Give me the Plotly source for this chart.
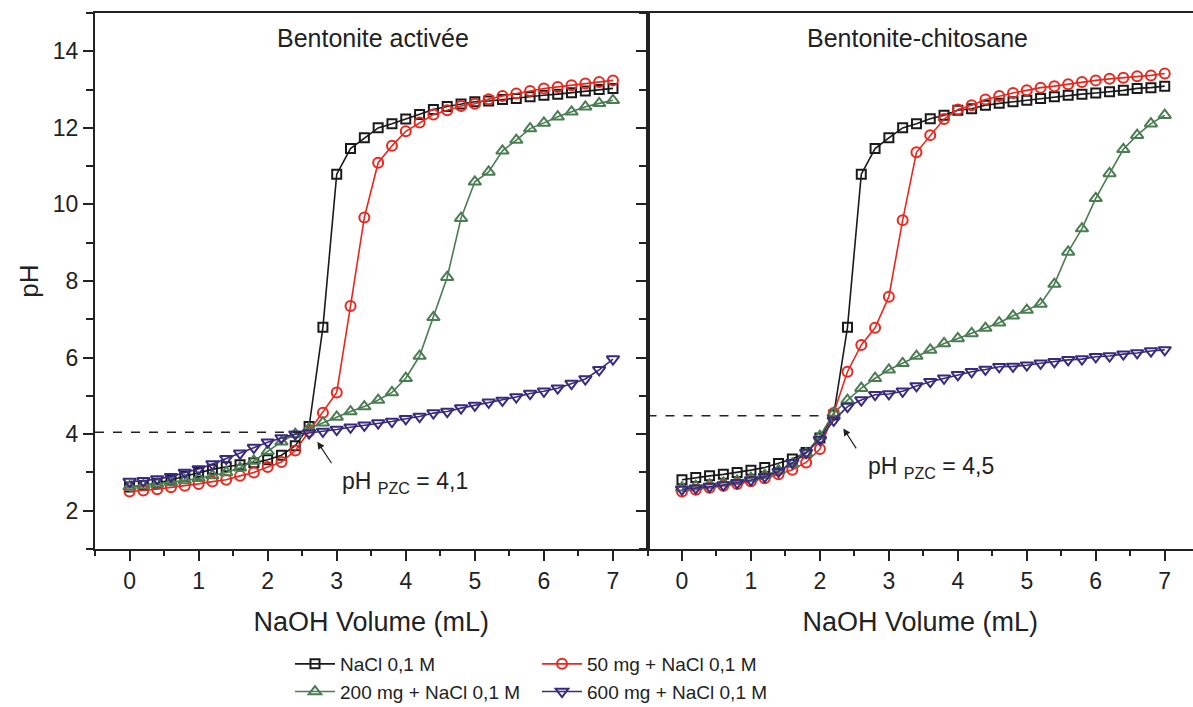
import plotly.graph_objects as go

# NaOH volume (mL)
volume = [0.0, 0.2, 0.4, 0.6, 0.8, 1.0, 1.2, 1.4, 1.6, 1.8, 2.0, 2.2, 2.4, 2.6, 2.8, 3.0, 3.2, 3.4,
          3.6, 3.8, 4.0, 4.2, 4.4, 4.6, 4.8, 5.0, 5.2, 5.4, 5.6, 5.8, 6.0, 6.2, 6.4, 6.6, 6.8, 7.0]

series_names = ["NaCl 0,1 M", "50 mg + NaCl 0,1 M", "200 mg + NaCl 0,1 M", "600 mg + NaCl 0,1 M"]

# Bentonite activée
act_nacl = [2.62, 2.66, 2.72, 2.80, 2.90, 3.00, 3.08, 3.15, 3.20, 3.25, 3.33, 3.45, 3.70, 4.20, 6.79, 10.79, 11.46, 11.74,
            12.00, 12.11, 12.23, 12.35, 12.48, 12.56, 12.62, 12.68, 12.70, 12.74, 12.77, 12.81, 12.85, 12.88, 12.92, 12.96, 13.00, 13.03]
act_50 = [2.50, 2.53, 2.56, 2.61, 2.65, 2.70, 2.76, 2.81, 2.91, 3.00, 3.14, 3.27, 3.57, 4.07, 4.56, 5.09, 7.35, 9.66,
          11.09, 11.53, 11.91, 12.14, 12.35, 12.46, 12.57, 12.63, 12.75, 12.83, 12.90, 12.96, 13.03, 13.07, 13.11, 13.16, 13.20, 13.24]
act_200 = [2.63, 2.66, 2.70, 2.74, 2.79, 2.85, 2.92, 3.00, 3.12, 3.30, 3.55, 3.80, 4.00, 4.15, 4.30, 4.45, 4.59, 4.72,
           4.89, 5.09, 5.46, 6.04, 7.05, 8.10, 9.64, 10.59, 10.85, 11.40, 11.68, 11.98, 12.13, 12.29, 12.42, 12.55, 12.64, 12.72]
act_600 = [2.76, 2.78, 2.83, 2.89, 3.00, 3.09, 3.22, 3.36, 3.50, 3.65, 3.79, 3.90, 4.00, 4.03, 4.07, 4.12, 4.18, 4.23,
           4.29, 4.33, 4.40, 4.46, 4.55, 4.59, 4.68, 4.75, 4.83, 4.88, 4.97, 5.06, 5.12, 5.20, 5.32, 5.44, 5.68, 5.96]

# Bentonite-chitosane
chi_nacl = [2.81, 2.87, 2.91, 2.95, 3.00, 3.06, 3.13, 3.23, 3.35, 3.52, 3.90, 4.50, 6.79, 10.79, 11.46, 11.74, 12.00, 12.11,
            12.24, 12.33, 12.46, 12.50, 12.59, 12.64, 12.68, 12.72, 12.77, 12.81, 12.85, 12.88, 12.91, 12.94, 12.98, 13.03, 13.05, 13.09]
chi_50 = [2.50, 2.55, 2.60, 2.65, 2.70, 2.77, 2.85, 2.95, 3.07, 3.26, 3.61, 4.55, 5.63, 6.33, 6.78, 7.59, 9.59, 11.36,
          11.81, 12.23, 12.48, 12.59, 12.74, 12.83, 12.91, 12.98, 13.05, 13.09, 13.14, 13.20, 13.24, 13.28, 13.31, 13.35, 13.37, 13.42]
chi_200 = [2.60, 2.64, 2.68, 2.73, 2.78, 2.85, 2.93, 3.05, 3.22, 3.50, 3.95, 4.55, 4.89, 5.20, 5.46, 5.68, 5.85, 6.04,
           6.20, 6.37, 6.50, 6.63, 6.77, 6.91, 7.09, 7.24, 7.40, 7.92, 8.76, 9.37, 10.16, 10.81, 11.44, 11.81, 12.11, 12.33]
chi_600 = [2.56, 2.59, 2.63, 2.67, 2.73, 2.80, 2.89, 3.02, 3.25, 3.52, 3.86, 4.36, 4.72, 4.89, 5.03, 5.05, 5.12, 5.26,
           5.37, 5.46, 5.55, 5.63, 5.69, 5.76, 5.77, 5.80, 5.85, 5.89, 5.94, 5.96, 6.02, 6.04, 6.09, 6.12, 6.17, 6.20]

panel_titles = ["Bentonite activée", "Bentonite-chitosane"]
pzc_values = [4.05, 4.48]
pzc_labels = ["pH <sub>PZC</sub> = 4,1", "pH <sub>PZC</sub> = 4,5"]

colors = ["#1a1a1a", "#e8281e", "#4b7d52", "#3a2a7e"]
symbols = ["square-open", "circle-open", "triangle-up-open", "triangle-down-open"]
msizes = [9, 10, 11, 11]
legend_ids = ["legend", "legend2", "legend", "legend2"]

FONT = "Liberation Sans, Arial, sans-serif"
AX = "#222222"

fig = go.Figure()
panels = [(act_nacl, act_50, act_200, act_600), (chi_nacl, chi_50, chi_200, chi_600)]
for p, data in enumerate(panels):
    xa = "x" if p == 0 else "x2"
    ya = "y" if p == 0 else "y2"
    for i, ys in enumerate(data):
        fig.add_trace(go.Scatter(
            x=volume, y=ys, mode="lines+markers", name=series_names[i],
            xaxis=xa, yaxis=ya,
            line=dict(color=colors[i], width=1.6),
            marker=dict(symbol=symbols[i], size=msizes[i], color=colors[i],
                        line=dict(color=colors[i], width=2)),
            showlegend=(p == 0), legend=legend_ids[i],
        ))

common_x = dict(range=[-0.5, 7.5], dtick=1, tick0=0, showline=True, linecolor=AX, linewidth=2,
                mirror=True, ticks="outside", ticklen=10, tickwidth=2, tickcolor=AX,
                minor=dict(dtick=0.5, tick0=0, ticks="outside", ticklen=5, tickwidth=2, tickcolor=AX),
                showgrid=False, zeroline=False,
                tickfont=dict(family=FONT, size=23, color="#222"),
                title=dict(text="NaOH Volume (mL)", font=dict(family=FONT, size=27, color="#222"), standoff=20))
common_y = dict(range=[1, 15], dtick=2, tick0=0, showline=True, linecolor=AX, linewidth=2,
                ticks="outside", ticklen=10, tickwidth=2, tickcolor=AX,
                minor=dict(dtick=1, tick0=0, ticks="outside", ticklen=7, tickwidth=2, tickcolor=AX),
                showgrid=False, zeroline=False,
                tickfont=dict(family=FONT, size=23, color="#222"))

L0, MID, R1 = 95 / 1193, 647.5 / 1193, 1.0
B, T = 1 - 549 / 707, 1 - 13 / 707

fig.update_layout(
    width=1193, height=707,
    margin=dict(l=0, r=0, t=0, b=0, autoexpand=False),
    paper_bgcolor="white", plot_bgcolor="white",
    font=dict(family=FONT, color="#222"),
    xaxis=dict(common_x, domain=[L0, MID], anchor="y"),
    yaxis=dict(common_y, domain=[B, T], anchor="x", mirror=True,
               title=dict(text="pH", font=dict(family=FONT, size=26, color="#222"), standoff=7)),
    xaxis2=dict(common_x, domain=[MID, R1], anchor="y2", range=[-0.5, 7.41]),
    yaxis2=dict(common_y, domain=[B, T], anchor="x2", mirror=False, showticklabels=False),
    legend=dict(x=290 / 1193, y=1 - 645 / 707, xanchor="left", yanchor="top",
                font=dict(family=FONT, size=19, color="#222"), bgcolor="rgba(0,0,0,0)",
                tracegroupgap=0, itemwidth=40),
    legend2=dict(x=537 / 1193, y=1 - 645 / 707, xanchor="left", yanchor="top",
                 font=dict(family=FONT, size=19, color="#222"), bgcolor="rgba(0,0,0,0)",
                 tracegroupgap=0, itemwidth=40),
)

# dashed pH_PZC lines
fig.add_shape(type="line", xref="x", yref="y", x0=-0.5, x1=2.62, y0=pzc_values[0], y1=pzc_values[0],
              line=dict(color="#222", width=1.6, dash="dash"))
fig.add_shape(type="line", xref="x2", yref="y2", x0=-0.5, x1=2.13, y0=pzc_values[1], y1=pzc_values[1],
              line=dict(color="#222", width=1.6, dash="dash"))

# arrows
fig.add_annotation(xref="x", yref="y", x=2.72, y=3.80, axref="x", ayref="y", ax=2.94, ay=3.2,
                   text="", showarrow=True, arrowhead=2, arrowsize=1.2, arrowwidth=1.2, arrowcolor="#222")
fig.add_annotation(xref="x2", yref="y2", x=2.34, y=4.15, axref="x2", ayref="y2", ax=2.54, ay=3.59,
                   text="", showarrow=True, arrowhead=2, arrowsize=1.2, arrowwidth=1.2, arrowcolor="#222")

# pH_PZC labels
fig.add_annotation(xref="x", yref="y", x=3.05, y=2.75, xanchor="left", yanchor="middle",
                   text=pzc_labels[0], showarrow=False, font=dict(family=FONT, size=23, color="#222"))
fig.add_annotation(xref="x2", yref="y2", x=2.67, y=3.12, xanchor="left", yanchor="middle",
                   text=pzc_labels[1], showarrow=False, font=dict(family=FONT, size=23, color="#222"))

# panel titles
fig.add_annotation(xref="x", yref="y", x=3.52, y=14.34, text=panel_titles[0], showarrow=False,
                   font=dict(family=FONT, size=25, color="#222"))
fig.add_annotation(xref="x2", yref="y2", x=3.42, y=14.34, text=panel_titles[1], showarrow=False,
                   font=dict(family=FONT, size=25, color="#222"))

fig.write_html("out.html")
